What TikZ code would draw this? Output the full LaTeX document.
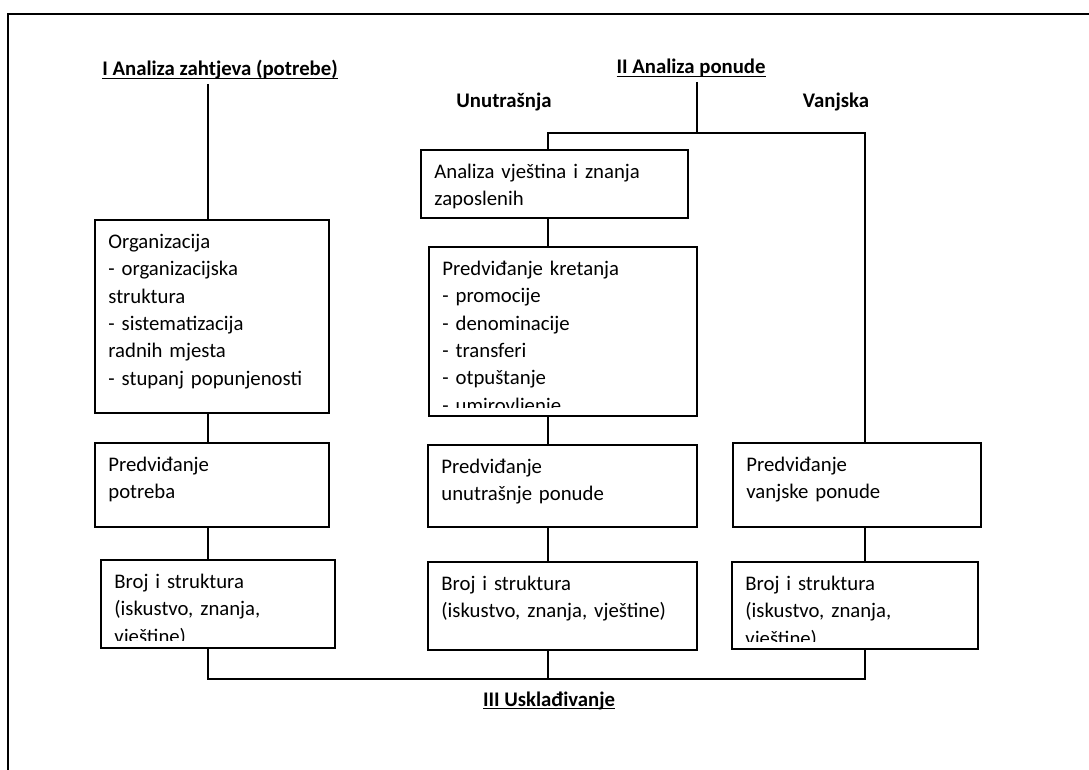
\documentclass[tikz,border=0pt]{standalone}
\usepackage{fontspec}
\setmainfont{Carlito}
\usetikzlibrary{positioning}
\newdimen\hrunit
\setlength{\hrunit}{0.53pt}
\tikzstyle{hrboxstyle}=[shape=rectangle,draw,line width=1pt,inner sep=0pt,outer sep=0pt,anchor=north west]
\tikzstyle{hrtextstyle}=[anchor=north west,align=left,inner sep=0pt,font=\fontsize{11}{14.5}\selectfont]
\tikzstyle{hrtitlestyle}=[anchor=base,inner sep=2pt,font=\fontsize{11}{14.5}\selectfont\bfseries]
\tikzstyle{hrlinestyle}=[line width=1pt]
\newcommand{\hrul}[1]{\underline{\smash{#1}}}
\newcommand{\hrstrut}{\rule{0pt}{28\hrunit}}
\newcommand{\hrbox}[6]{ \draw (#2,#3) node [style=hrboxstyle, minimum width={(#4-#2)*\hrunit}, minimum height={(#5-#3)*\hrunit}] (#1) {}; \begin{scope} \clip (#1.north west) rectangle ([yshift=8\hrunit]#1.south east); \draw (#1.north west) ++(13,0) node [style=hrtextstyle, text width={(#4-#2-20)*\hrunit}] (#1text) {\hrstrut#6}; \end{scope} }
\newcommand{\hrtitle}[4]{ \draw (#3,#4) node [style=hrtitlestyle] (#1) {#2}; }
\newcommand{\hrvline}[3]{ \draw [style=hrlinestyle] (#2.south -| #1) -- (#3.north -| #1); }

\begin{document}
\begin{tikzpicture}[x=\hrunit,y=-\hrunit]
\useasboundingbox (0,0) rectangle (1089,770); %
\draw [line width=1.3pt] (1089,14) -| (8,770); %
\hrtitle{titlei}{\hrul{I Analiza zahtjeva (potrebe)}}{220}{76} %
\hrtitle{titleii}{\hrul{II Analiza ponude}}{691}{74} %
\hrtitle{unut}{Unutrašnja}{504}{108} %
\hrtitle{vanj}{Vanjska}{836}{108} %
\hrtitle{titleiii}{\hrul{III Usklađivanje}}{549}{706} %
\hrbox{orgbox}{95}{220}{329}{413}{Organizacija\\- organizacijska\\struktura\\- sistematizacija\\radnih mjesta\\- stupanj popunjenosti} %
\hrbox{potrebebox}{95}{443}{329}{527}{Predviđanje\\potreba} %
\hrbox{brojlbox}{101}{560}{335}{648}{Broj i struktura\\(iskustvo, znanja,\\vještine)} %
\hrbox{analizabox}{421}{150}{688}{218}{Analiza vještina i znanja\\zaposlenih} %
\hrbox{kretanjebox}{429}{247}{697}{416}{Predviđanje kretanja\\- promocije\\- denominacije\\- transferi\\- otpuštanje\\- umirovljenje} %
\hrbox{unutbox}{428}{445}{697}{527}{Predviđanje\\unutrašnje ponude} %
\hrbox{brojmbox}{428}{562}{697}{650}{Broj i struktura\\(iskustvo, znanja, vještine)} %
\hrbox{vanjbox}{733}{443}{981}{527}{Predviđanje\\vanjske ponude} %
\hrbox{brojrbox}{732}{562}{978}{649}{Broj i struktura\\(iskustvo, znanja,\\vještine)} %
\coordinate (lcol) at (208,0); %
\coordinate (mcol) at (548,0); %
\coordinate (rcol) at (865,0); %
\coordinate (ijoin) at (697,133); %
\coordinate (bottomrow) at (0,679); %
\draw [style=hrlinestyle] (titlei.south -| lcol) -- (orgbox.north -| lcol); %
\hrvline{lcol}{orgbox}{potrebebox} %
\hrvline{lcol}{potrebebox}{brojlbox} %
\draw [style=hrlinestyle] (titleii.south -| ijoin) -- (ijoin); %
\draw [style=hrlinestyle] (analizabox.north -| mcol) -- (mcol |- ijoin) -- (rcol |- ijoin) -- (vanjbox.north -| rcol); %
\hrvline{mcol}{analizabox}{kretanjebox} %
\hrvline{mcol}{kretanjebox}{unutbox} %
\hrvline{mcol}{unutbox}{brojmbox} %
\hrvline{rcol}{vanjbox}{brojrbox} %
\draw [style=hrlinestyle] (brojlbox.south -| lcol) -- (lcol |- bottomrow) -- (rcol |- bottomrow) -- (brojrbox.south -| rcol); %
\draw [style=hrlinestyle] (brojmbox.south -| mcol) -- (mcol |- bottomrow); %
\end{tikzpicture}
\end{document}
